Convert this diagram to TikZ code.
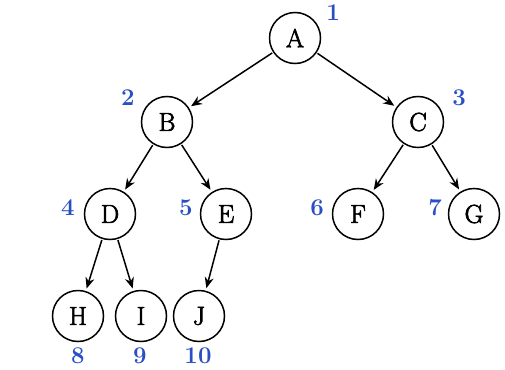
\documentclass[tikz,border=0pt]{standalone}
\usepackage{fontspec}
\newfontfamily\vfont{Latin Modern Roman}[FakeBold=2.5]
\usetikzlibrary{arrows.meta}
\begin{document}
\begin{tikzpicture}[x=1pt,y=-1pt,
  vert/.style={circle,draw,line width=1.5pt,minimum size=51pt,inner sep=0pt,font=\vfont\fontsize{26}{28}\selectfont},
  num/.style={text=numblue,font=\fontsize{24}{26}\selectfont\bfseries},
  edge/.style={line width=1.5pt,-{Stealth[length=11pt,width=9pt]},shorten >=2.5pt,shorten <=1pt}]
\definecolor{numblue}{HTML}{2A4FC4}
\useasboundingbox (0,0) rectangle (505,369);
\node[vert] (A) at (295,38) {A};
\node[vert] (B) at (167,122) {B};
\node[vert] (C) at (418,122) {C};
\node[vert] (D) at (110,214) {D};
\node[vert] (E) at (226,214) {E};
\node[vert] (F) at (358,214) {F};
\node[vert] (G) at (474,214) {G};
\node[vert] (H) at (78,316) {H};
\node[vert] (I) at (141,316) {I};
\node[vert] (J) at (199,316) {J};
\node[num] (n1) at (333,13) {1};
\node[num] (n2) at (128,98) {2};
\node[num] (n3) at (459,98) {3};
\node[num] (n4) at (68,208) {4};
\node[num] (n5) at (186,208) {5};
\node[num] (n6) at (317,208) {6};
\node[num] (n7) at (435,208) {7};
\node[num] (n8) at (78,356) {8};
\node[num] (n9) at (140,356) {9};
\node[num] (n10) at (198,356) {10};
\draw[edge] (A) -- (B);
\draw[edge] (A) -- (C);
\draw[edge] (B) -- (D);
\draw[edge] (B) -- (E);
\draw[edge] (C) -- (F);
\draw[edge] (C) -- (G);
\draw[edge] (D) -- (H);
\draw[edge] (D) -- (I);
\draw[edge] (E) -- (J);
\end{tikzpicture}
\end{document}
